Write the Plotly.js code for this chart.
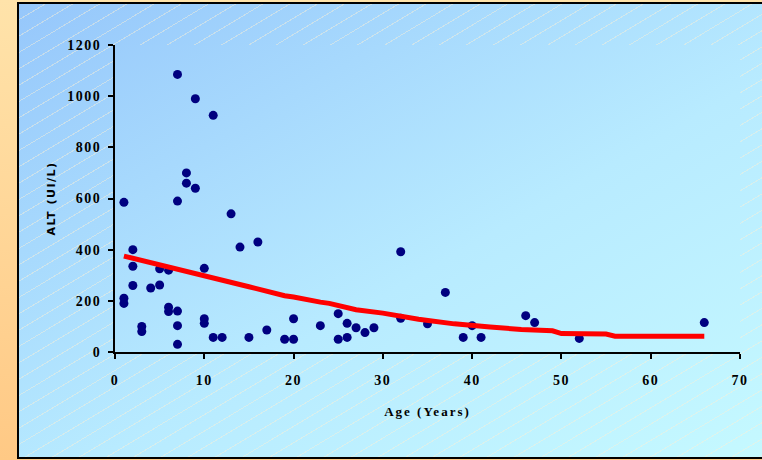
<!DOCTYPE html>
<html>
<head>
<meta charset="utf-8">
<script src="https://cdn.plot.ly/plotly-3.0.1.min.js"></script>
<style>
  html, body { margin: 0; padding: 0; }
  body {
    width: 762px; height: 460px; overflow: hidden; position: relative;
    background: linear-gradient(to bottom, #ffe3aa 0%, #ffc985 100%);
  }
  /* framed light-blue panel with faint diagonal hatching */
  #frame {
    position: absolute; left: 17px; top: 2px; width: 800px; height: 457px;
    box-sizing: border-box; border: 2px solid #000;
    background:
      repeating-linear-gradient(149deg, rgba(255,255,255,0) 0px, rgba(255,255,255,0) 13px,
                                rgba(250,240,215,0.45) 13px, rgba(250,240,215,0.45) 14px),
      linear-gradient(to bottom right, #96c7fb 0%, #b8ebff 55%, #c6faff 100%);
  }
  /* plot area: same gradient, no hatching */
  #plotbg {
    position: absolute; left: 115px; top: 45px; width: 625px; height: 307px;
    background: linear-gradient(to bottom right, #96c7fb 0%, #b8ebff 55%, #c6faff 100%);
    background-size: 800px 457px;
    background-position: -98px -43px;
  }
  #chart { position: absolute; left: 0; top: 0; width: 762px; height: 460px; }
  .xtick text, .ytick text { letter-spacing: 1.5px; }
  .g-xtitle text { letter-spacing: 2px; }
  .g-ytitle text { letter-spacing: 1.5px; }
</style>
</head>
<body>
<div id="frame"></div>
<div id="plotbg"></div>
<div id="chart"></div>
<script>
// Patient age (years) and serum ALT (UI/L)
var age = [1, 1, 1, 2, 2, 2, 3, 3, 4, 5, 5, 6, 6, 6,
           7, 7, 7, 7, 7, 8, 8, 9, 9, 10, 10, 10, 11, 11, 12,
           13, 14, 15, 16, 17, 19, 20, 20, 23, 25, 25, 26, 26,
           27, 28, 29, 32, 32, 35, 37, 39, 40, 41, 46, 47, 52, 66];
var alt = [585, 210, 190, 400, 335, 260, 100, 80, 250, 325, 262, 320, 175, 158,
           1085, 590, 160, 103, 30, 700, 660, 990, 640, 327, 130, 112, 925, 57, 57,
           540, 410, 57, 430, 86, 50, 50, 130, 103, 150, 50, 112, 57,
           95, 76, 95, 392, 132, 110, 233, 57, 103, 57, 142, 115, 53, 115];

// Trend curve of ALT against age
var trendAge = [1, 5, 10, 15, 19, 20, 23, 24, 27, 30, 34, 38, 42, 45.5, 49, 50, 55, 56, 66];
var trendAlt = [375, 342, 300, 255, 220, 215, 195, 190, 165, 152, 128, 110, 98, 88, 83, 72, 70, 62, 62];

var xTicks = [0, 10, 20, 30, 40, 50, 60, 70];
var yTicks = [0, 200, 400, 600, 800, 1000, 1200];

var serif = 'Liberation Serif, Times New Roman, serif';
var tickFont = {family: serif, size: 14, color: '#000', weight: 'bold'};

var traces = [
  {
    x: age, y: alt, type: 'scatter', mode: 'markers',
    marker: {color: '#000080', size: 9, symbol: 'circle'},
    hoverinfo: 'x+y'
  },
  {
    x: trendAge, y: trendAlt, type: 'scatter', mode: 'lines',
    line: {color: '#ff0000', width: 5},
    hoverinfo: 'skip'
  }
];

var layout = {
  width: 762, height: 460,
  margin: {l: 115, r: 22, t: 45, b: 108},
  paper_bgcolor: 'rgba(0,0,0,0)',
  plot_bgcolor: 'rgba(0,0,0,0)',
  showlegend: false,
  xaxis: {
    range: [0, 70], tickvals: xTicks, ticktext: xTicks.map(String),
    showgrid: false, zeroline: false,
    showline: true, linecolor: '#000', linewidth: 2,
    ticks: 'outside', ticklen: 5, tickwidth: 2, tickcolor: '#000',
    ticklabelstandoff: 9,
    tickfont: tickFont,
    title: {text: 'Age (Years)', standoff: 20,
            font: {family: serif, size: 13, color: '#000', weight: 'bold'}}
  },
  yaxis: {
    range: [0, 1200], tickvals: yTicks, ticktext: yTicks.map(String),
    showgrid: false, zeroline: false,
    showline: true, linecolor: '#000', linewidth: 2,
    ticks: 'outside', ticklen: 5, tickwidth: 2, tickcolor: '#000',
    ticklabelstandoff: 4,
    tickfont: tickFont,
    title: {text: 'ALT (UI/L)', standoff: 9,
            font: {family: 'DejaVu Sans, sans-serif', size: 11, color: '#000', weight: 'bold'}}
  }
};

Plotly.newPlot('chart', traces, layout, {displayModeBar: false, staticPlot: true});
</script>
</body>
</html>
